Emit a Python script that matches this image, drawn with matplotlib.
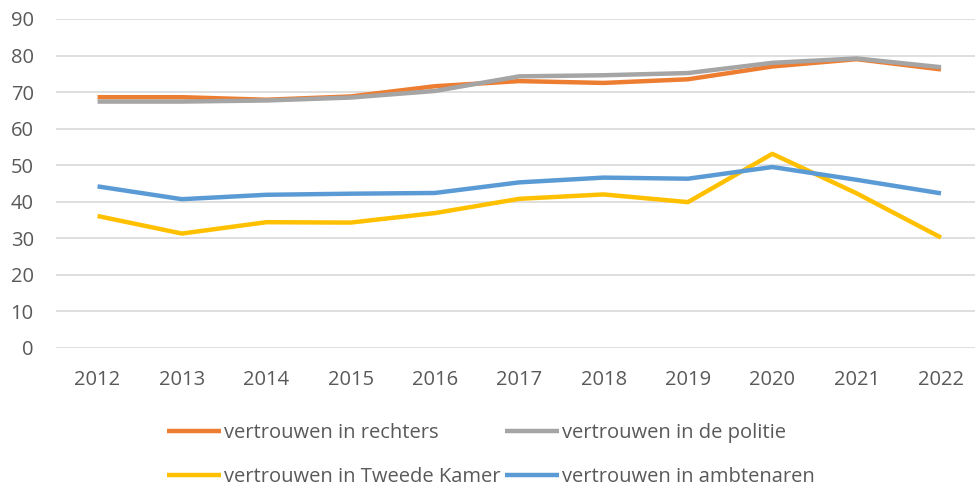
import matplotlib.pyplot as plt

years = [2012, 2013, 2014, 2015, 2016, 2017, 2018, 2019, 2020, 2021, 2022]
rechters = [68.6, 68.6, 67.9, 68.8, 71.6, 73.0, 72.5, 73.5, 77.0, 79.0, 76.2]
politie = [67.4, 67.4, 67.7, 68.5, 70.3, 74.3, 74.6, 75.2, 78.0, 79.2, 76.8]
tweede_kamer = [36.1, 31.3, 34.4, 34.3, 36.9, 40.8, 42.0, 39.9, 53.1, 42.3, 30.2]
ambtenaren = [44.2, 40.7, 41.9, 42.2, 42.4, 45.3, 46.6, 46.3, 49.5, 46.0, 42.3]

labels = ['vertrouwen in rechters', 'vertrouwen in de politie',
          'vertrouwen in Tweede Kamer', 'vertrouwen in ambtenaren']
colors = ['#ED7D31', '#A5A5A5', '#FFC000', '#5B9BD5']

plt.rcParams['font.family'] = ['Open Sans', 'DejaVu Sans']
text_col = '#595959'

fig = plt.figure(figsize=(9.75, 4.86), dpi=100)
ax = fig.add_axes([0.0574, 0.284, 0.9426, 0.677])

lines = []
for series, c, lab in zip([rechters, politie, tweede_kamer, ambtenaren], colors, labels):
    ln, = ax.plot(years, series, color=c, lw=3.2, label=lab, solid_capstyle='butt')
    lines.append(ln)

ax.set_ylim(0, 90)
ax.set_xlim(2011.507, 2022.403)
ax.set_yticks(range(0, 91, 10))
ax.set_xticks(years)
ax.grid(axis='y', color='#D9D9D9', lw=1.2)
ax.set_axisbelow(True)
for s in ax.spines.values():
    s.set_visible(False)
ax.tick_params(length=0, labelsize=14.5, labelcolor=text_col)
ax.tick_params(axis='x', pad=15.5)
ax.tick_params(axis='y', pad=16)

# excel legend: rows are (rechters, politie), (Tweede Kamer, ambtenaren)
order = [0, 2, 1, 3]
fig.legend([lines[i] for i in order], [labels[i] for i in order],
           ncol=2, loc='upper left', bbox_to_anchor=(0.171, 0.130),
           frameon=False, fontsize=14.5, labelcolor=text_col,
           handlelength=2.7, handletextpad=0.15, columnspacing=0.2,
           labelspacing=1.2, borderaxespad=0, borderpad=0)

fig.savefig('out.png', dpi=100)
